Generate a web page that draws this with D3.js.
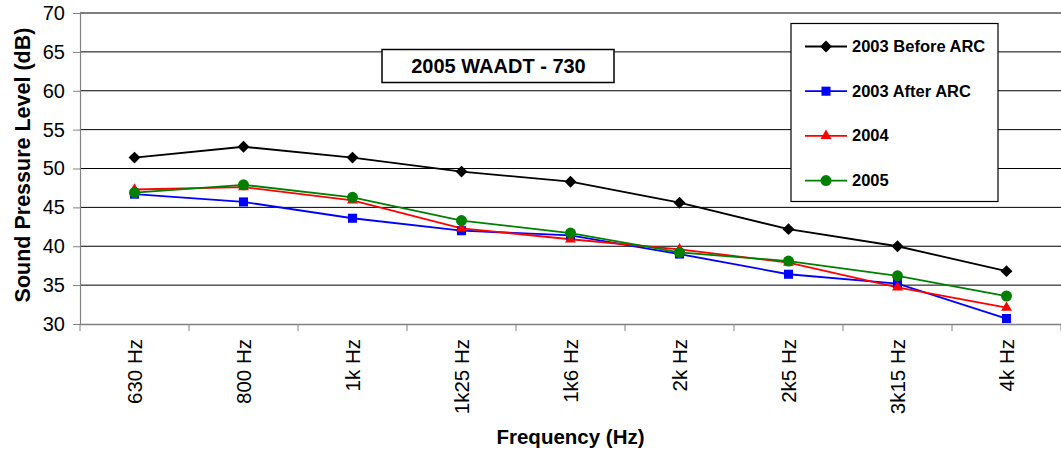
<!DOCTYPE html>
<html>
<head>
<meta charset="utf-8">
<script src="https://cdn.jsdelivr.net/npm/d3@7"></script>
<style>
  html, body { margin: 0; padding: 0; background: #fff; }
  svg { display: block; font-family: Arial, "Liberation Sans", sans-serif; }
</style>
</head>
<body>
<svg id="chart" width="1061" height="455"></svg>
<script>
// Octave-band centre frequencies
const categories = ["630 Hz", "800 Hz", "1k Hz", "1k25 Hz", "1k6 Hz", "2k Hz", "2k5 Hz", "3k15 Hz", "4k Hz"];

// Sound pressure levels (dB) per survey
const before2003 = [51.4, 52.8, 51.4, 49.6, 48.3, 45.6, 42.2, 40.0, 36.8];
const after2003  = [46.7, 45.7, 43.6, 42.0, 41.4, 39.0, 36.4, 35.2, 30.7];
const year2004   = [47.3, 47.6, 45.9, 42.3, 40.9, 39.6, 37.9, 34.7, 32.1];
const year2005   = [46.9, 47.9, 46.3, 43.3, 41.7, 39.2, 38.1, 36.2, 33.6];

const yTicks = [30, 35, 40, 45, 50, 55, 60, 65, 70];
const seriesNames = ["2003 Before ARC", "2003 After ARC", "2004", "2005"];

const series = [
  { name: seriesNames[0], values: before2003, color: "#000000", symbol: d3.symbolDiamond2, size: 90 },
  { name: seriesNames[1], values: after2003,  color: "#0000ff", symbol: d3.symbolSquare2,  size: 105 },
  { name: seriesNames[2], values: year2004,   color: "#ff0000", symbol: d3.symbolTriangle2, size: 85 },
  { name: seriesNames[3], values: year2005,   color: "#008000", symbol: d3.symbolCircle,   size: 95 }
];

const svg = d3.select("#chart");
const plot = { left: 80, right: 1061, top: 13, bottom: 324 };

const x = d3.scaleBand().domain(categories).range([plot.left, plot.right]);
const y = d3.scaleLinear().domain([30, 70]).range([plot.bottom, plot.top]);

// Horizontal gridlines
svg.append("g")
  .selectAll("line")
  .data(yTicks.filter(t => t !== 30))
  .join("line")
  .attr("x1", plot.left).attr("x2", plot.right)
  .attr("y1", d => y(d)).attr("y2", d => y(d))
  .attr("stroke", "#000").attr("stroke-width", 1);

// Y axis
const yAxis = svg.append("g")
  .attr("transform", `translate(${plot.left},0)`)
  .call(d3.axisLeft(y).tickValues(yTicks).tickSize(7).tickPadding(8).tickFormat(d3.format("d")));
yAxis.select(".domain").attr("stroke", "#808080").attr("stroke-width", 1.2);
yAxis.selectAll(".tick line").attr("stroke", "#808080");
yAxis.selectAll("text").attr("font-size", 20).attr("fill", "#000")
  .attr("font-family", "Arial, 'Liberation Sans', sans-serif");

// X axis
const xAxis = svg.append("g")
  .attr("transform", `translate(0,${plot.bottom})`)
  .call(d3.axisBottom(x).tickSize(0).tickPadding(0));
xAxis.select(".domain").attr("stroke", "#808080").attr("stroke-width", 1.5);
xAxis.selectAll(".tick text")
  .attr("font-size", 20.5).attr("fill", "#000")
  .attr("font-family", "Arial, 'Liberation Sans', sans-serif")
  .attr("transform", "rotate(-90)")
  .attr("text-anchor", "end")
  .attr("dy", "0.35em")
  .attr("x", -15)
  .attr("y", 0);
// category boundary ticks
svg.append("g")
  .selectAll("line")
  .data(d3.range(categories.length + 1))
  .join("line")
  .attr("x1", i => plot.left + i * x.step())
  .attr("x2", i => plot.left + i * x.step())
  .attr("y1", plot.bottom).attr("y2", plot.bottom + 7)
  .attr("stroke", "#808080").attr("stroke-width", 1);

// Lines and markers
const line = d3.line()
  .x((d, i) => x(categories[i]) + x.bandwidth() / 2)
  .y(d => y(d));

series.forEach(s => {
  svg.append("path")
    .datum(s.values)
    .attr("fill", "none")
    .attr("stroke", s.color)
    .attr("stroke-width", 1.8)
    .attr("d", line);
});
series.forEach(s => {
  svg.append("g")
    .selectAll("path")
    .data(s.values)
    .join("path")
    .attr("transform", (d, i) => `translate(${x(categories[i]) + x.bandwidth() / 2},${y(d)})`)
    .attr("d", d3.symbol().type(s.symbol).size(s.size))
    .attr("fill", s.color);
});

// Chart title box
const title = svg.append("g");
title.append("rect")
  .attr("x", 382).attr("y", 49.5).attr("width", 232).attr("height", 33)
  .attr("fill", "#fff").attr("stroke", "#000").attr("stroke-width", 1.5);
title.append("text")
  .attr("x", 498.5).attr("y", 73)
  .attr("text-anchor", "middle")
  .attr("font-size", 20).attr("font-weight", "bold")
  .text("2005 WAADT - 730");

// Legend
const legend = svg.append("g");
legend.append("rect")
  .attr("x", 791).attr("y", 23.5).attr("width", 207).attr("height", 178)
  .attr("fill", "#fff").attr("stroke", "#000").attr("stroke-width", 1.2);
series.forEach((s, i) => {
  const ly = 46.5 + i * 44.7;
  legend.append("line")
    .attr("x1", 805).attr("x2", 847).attr("y1", ly).attr("y2", ly)
    .attr("stroke", s.color).attr("stroke-width", 1.8);
  legend.append("path")
    .attr("transform", `translate(826,${ly})`)
    .attr("d", d3.symbol().type(s.symbol).size(s.size))
    .attr("fill", s.color);
  legend.append("text")
    .attr("x", 852).attr("y", ly + 5.5)
    .attr("font-size", 16.5).attr("font-weight", "bold")
    .text(s.name);
});

// Axis titles
svg.append("text")
  .attr("transform", `translate(29.5,165) rotate(-90)`)
  .attr("text-anchor", "middle")
  .attr("font-size", 21.5).attr("font-weight", "bold")
  .text("Sound Pressure Level (dB)");

svg.append("text")
  .attr("x", (plot.left + plot.right) / 2).attr("y", 444)
  .attr("text-anchor", "middle")
  .attr("font-size", 20.5).attr("font-weight", "bold")
  .text("Frequency (Hz)");
</script>
</body>
</html>
